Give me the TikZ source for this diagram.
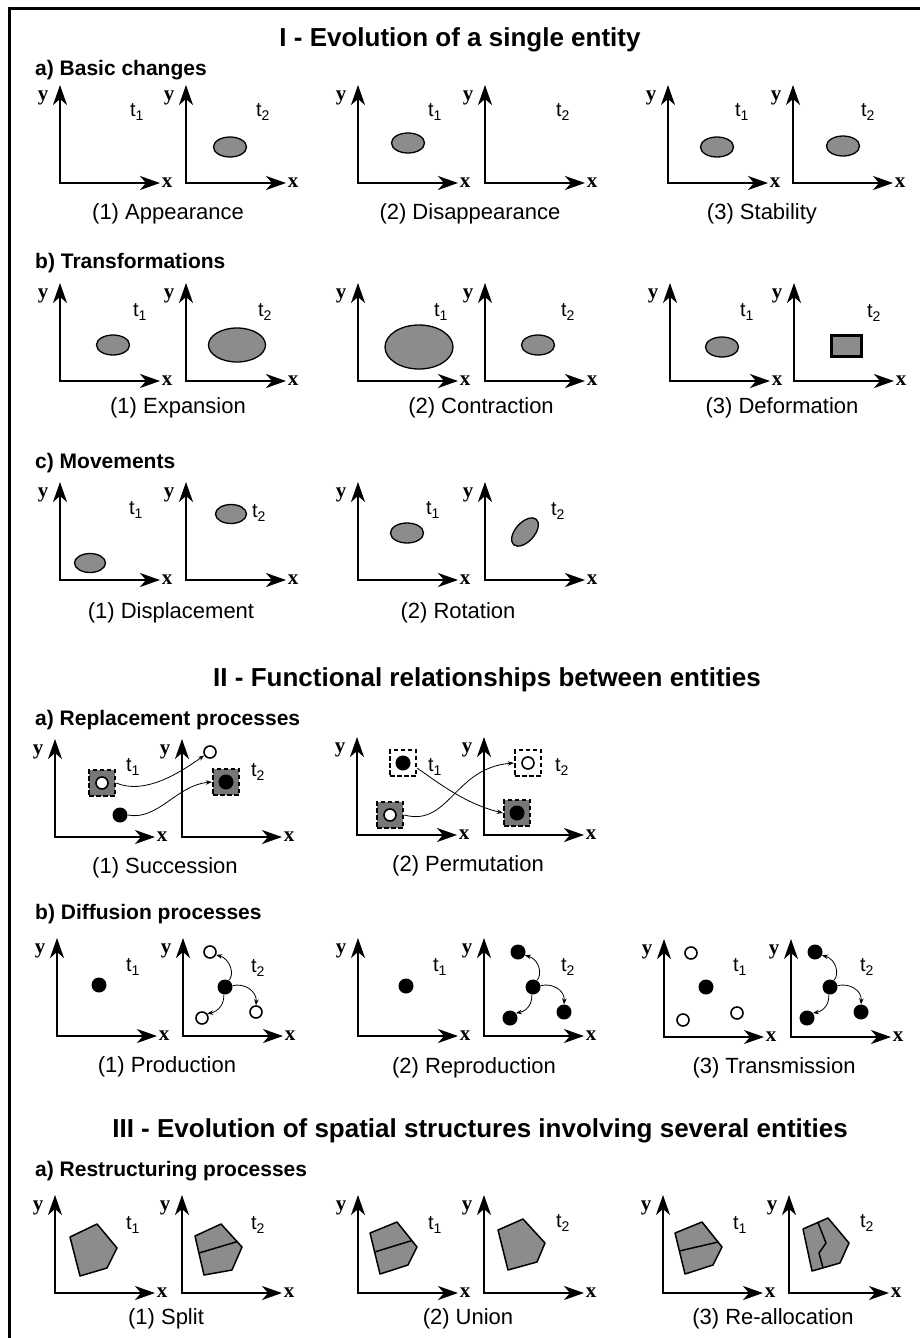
\documentclass[tikz,border=0pt]{standalone}
\usepackage{fontspec}
\setmainfont{Liberation Sans}
\newfontfamily\axfont{Liberation Serif}
\usetikzlibrary{arrows.meta,shapes.geometric}
\definecolor{shapegray}{RGB}{140,140,140}
\tikzset{
 axisline/.style={line width=1.7pt, {Stealth[length=20pt,width=14pt,inset=6pt]}-{Stealth[length=20pt,width=14pt,inset=6pt]}},
 axlab/.style={font=\axfont\bfseries\fontsize{21}{21}\selectfont, inner sep=0},
 tlab/.style={font=\fontsize{20}{20}\selectfont, inner sep=0},
 captxt/.style={font=\fontsize{22}{26}\selectfont, inner sep=0},
 subt/.style={font=\bfseries\fontsize{21}{25}\selectfont, inner sep=0, anchor=west},
 ttl/.style={font=\bfseries\fontsize{26}{30}\selectfont, inner sep=0},
 ell/.style={ellipse, draw, line width=1.3pt, fill=shapegray, inner sep=0, minimum width=33pt, minimum height=20pt},
 bigell/.style={ellipse, draw, line width=1.3pt, fill=shapegray, inner sep=0},
 bdot/.style={circle, fill=black, inner sep=0, minimum size=15pt},
 odot/.style={circle, draw, line width=1.6pt, fill=white, inner sep=0, minimum size=12pt},
 dsq/.style={rectangle, draw, line width=2.4pt, dash pattern=on 4.5pt off 2.5pt, inner sep=0, minimum size=26pt},
 dsqg/.style={dsq, fill=shapegray!85!black},
 dsqw/.style={dsq, fill=white},
 carrow/.style={line width=0.8pt, -{Stealth[length=6pt,width=4.5pt]}},
 poly/.style={draw, line width=1.5pt, fill=shapegray, line join=round},
 splitline/.style={draw, line width=1.5pt, line join=round},
}
\newcommand\myax[2]{\begin{scope}[shift={(#1,#2)}]
 \draw[axisline] (0,-98) -- (0,0) -- (100,0);
 \node[axlab] at (-17,-85) {y};
 \node[axlab] at (107,0) {x};
 \end{scope}}
\newcommand\tsub[1]{t\textsubscript{#1}}
% diffusion second panel: #1 prefix, #2 shift x, #3 outer style
\newcommand\diffpanel[3]{\begin{scope}[shift={(#2,0)}]
 \node[bdot] (#1c) at (225,987) {};
 \node[#3] (#1u) at (210,952) {};
 \node[#3] (#1l) at (202,1018) {};
 \node[#3] (#1r) at (256,1012) {};
 \draw[carrow] (#1c.60) .. controls +(6,-6) and +(14,4) .. (#1u.-25);
 \draw[carrow] (#1c.10) .. controls +(12,-3) and +(1,-14) .. (#1r.north);
 \draw[carrow] (#1c.-100) .. controls +(1,9) and +(11,-2) .. (#1l.40);
 \end{scope}}
\begin{document}
\begin{tikzpicture}[x=1pt,y=-1pt]
\useasboundingbox (0,0) rectangle (919,1338);
\fill[white] (0,0) rectangle (919,1338);
\draw[line width=3pt] (9.5,1345) -- (9.5,9) -- (925,9);

% ===== Section I =====
\node[ttl] (T1) at (460,40) {I - Evolution of a single entity};
\node[subt] (Sa1) at (35,70) {a) Basic changes};
\myax{60}{183}\myax{186}{183}\myax{358}{183}\myax{485}{183}\myax{668}{183}\myax{793}{183}
\node[tlab] (ta1) at (137,112) {\tsub{1}};
\node[tlab] (ta2) at (263,112) {\tsub{2}};
\node[tlab] (ta3) at (435,112) {\tsub{1}};
\node[tlab] (ta4) at (563,112) {\tsub{2}};
\node[tlab] (ta5) at (742,112) {\tsub{1}};
\node[tlab] (ta6) at (868,112) {\tsub{2}};
\node[ell] (ea1) at (230,147) {};
\node[ell] (ea2) at (408,143) {};
\node[ell] (ea3) at (717,147) {};
\node[ell] (ea4) at (843,146) {};
\node[captxt] (ca1) at (168,214) {(1) Appearance};
\node[captxt] (ca2) at (470,214) {(2) Disappearance};
\node[captxt] (ca3) at (762,214) {(3) Stability};

\node[subt] (Sb1) at (35,263) {b) Transformations};
\myax{60}{381}\myax{186}{381}\myax{358}{381}\myax{485}{381}\myax{670}{381}\myax{794}{381}
\node[tlab] (tb1) at (140,312) {\tsub{1}};
\node[tlab] (tb2) at (265,312) {\tsub{2}};
\node[tlab] (tb3) at (441,312) {\tsub{1}};
\node[tlab] (tb4) at (568,312) {\tsub{2}};
\node[tlab] (tb5) at (747,312) {\tsub{1}};
\node[tlab] (tb6) at (874,313) {\tsub{2}};
\node[ell] (eb1) at (113,345) {};
\node[bigell, minimum width=57pt, minimum height=34pt] (eb2) at (237,345) {};
\node[bigell, minimum width=68pt, minimum height=44pt] (eb3) at (419,347) {};
\node[ell] (eb4) at (538,345) {};
\node[ell] (eb5) at (722,347) {};
\node[rectangle, draw, line width=2.6pt, fill=shapegray, inner sep=0, minimum width=30pt, minimum height=21pt] (rb6) at (846.5,346) {};
\node[captxt] (cb1) at (178,408) {(1) Expansion};
\node[captxt] (cb2) at (481,408) {(2) Contraction};
\node[captxt] (cb3) at (782,408) {(3) Deformation};

\node[subt] (Sc1) at (35,463) {c) Movements};
\myax{60}{580}\myax{186}{580}\myax{358}{580}\myax{485}{580}
\node[tlab] (tc1) at (136,510) {\tsub{1}};
\node[tlab] (tc2) at (259,513) {\tsub{2}};
\node[tlab] (tc3) at (433,510) {\tsub{1}};
\node[tlab] (tc4) at (558,511) {\tsub{2}};
\node[ell, minimum width=31pt, minimum height=19pt] (ec1) at (90,563) {};
\node[ell, minimum width=31pt, minimum height=19pt] (ec2) at (231,514) {};
\node[ell, minimum width=33pt, minimum height=20pt] (ec3) at (407,533) {};
\node[ell, minimum width=34pt, minimum height=19pt, rotate=48] (ec4) at (525,532) {};
\node[captxt] (cc1) at (171,613) {(1) Displacement};
\node[captxt] (cc2) at (458,613) {(2) Rotation};

% ===== Section II =====
\node[ttl] (T2) at (487,680) {II - Functional relationships between entities};
\node[subt] (Sa2) at (35,720) {a) Replacement processes};
\myax{55}{837}\myax{182}{837}\myax{357}{835}\myax{484}{835}
\node[tlab] (tr1) at (133,767) {\tsub{1}};
\node[tlab] (tr2) at (258,772) {\tsub{2}};
\node[tlab] (tr3) at (435,767) {\tsub{1}};
\node[tlab] (tr4) at (562,767) {\tsub{2}};
% succession
\node[dsqg] (s1) at (102,783) {};
\node[odot] (s1i) at (s1) {};
\node[bdot] (s2) at (120,815) {};
\node[odot] (s3) at (210,752) {};
\node[dsqg] (s4) at (226,782) {};
\node[bdot] (s4i) at (s4) {};
\draw[carrow] (s1.east) .. controls +(28,12) and +(-25,18) .. (s3.-150);
\draw[carrow] (s2.east) .. controls +(30,6) and +(-35,3) .. (s4.west);
% permutation
\node[dsqw] (p1) at (403,763) {};
\node[bdot] (p1i) at (p1) {};
\node[dsqg] (p2) at (390,815) {};
\node[odot] (p2i) at (p2) {};
\node[dsqw] (p3) at (528,763) {};
\node[odot] (p3i) at (p3) {};
\node[dsqg] (p4) at (517,813) {};
\node[bdot] (p4i) at (p4) {};
\draw[carrow] (p1.-20) .. controls +(18,12) and +(-40,-10) .. (p4.west);
\draw[carrow] (p2.east) .. controls +(45,12) and +(-60,5) .. (p3.west);
\node[captxt] (cr1) at (165,868) {(1) Succession};
\node[captxt] (cr2) at (468,866) {(2) Permutation};

\node[subt] (Sb2) at (35,914) {b) Diffusion processes};
\myax{57}{1036}\myax{183}{1036}\myax{358}{1036}\myax{484}{1036}\myax{664}{1037}\myax{791}{1037}
\node[tlab] (td1) at (133,967) {\tsub{1}};
\node[tlab] (td2) at (258,968) {\tsub{2}};
\node[tlab] (td3) at (440,967) {\tsub{1}};
\node[tlab] (td4) at (568,967) {\tsub{2}};
\node[tlab] (td5) at (740,967) {\tsub{1}};
\node[tlab] (td6) at (867,967) {\tsub{2}};
\node[bdot] (d1) at (99,985) {};
\diffpanel{pa}{0}{odot}
\node[bdot] (d2) at (406,986) {};
\diffpanel{pb}{308}{bdot}
\node[odot] (d3a) at (691,953) {};
\node[bdot] (d3b) at (706,987) {};
\node[odot] (d3c) at (683,1020) {};
\node[odot] (d3d) at (737,1013) {};
\diffpanel{pc}{605}{bdot}
\node[captxt] (cd1) at (167,1067) {(1) Production};
\node[captxt] (cd2) at (474,1068) {(2) Reproduction};
\node[captxt] (cd3) at (774,1068) {(3) Transmission};

% ===== Section III =====
\node[ttl] (T3) at (480,1131) {III - Evolution of spatial structures involving several entities};
\node[subt] (Sa3) at (35,1171) {a) Restructuring processes};
\myax{55}{1293}\myax{182}{1293}\myax{358}{1293}\myax{484}{1293}\myax{663}{1293}\myax{789}{1293}
\node[tlab] (tp1) at (133,1225) {\tsub{1}};
\node[tlab] (tp2) at (258,1225) {\tsub{2}};
\node[tlab] (tp3) at (435,1225) {\tsub{1}};
\node[tlab] (tp4) at (563,1223) {\tsub{2}};
\node[tlab] (tp5) at (740,1225) {\tsub{1}};
\node[tlab] (tp6) at (867,1223) {\tsub{2}};
% split
\draw[poly] (70,1237) -- (97,1224) -- (117,1248) -- (107,1268) -- (80,1276) -- cycle;
\draw[poly] (195,1236) -- (221,1224) -- (242,1247) -- (232,1270) -- (204,1275) -- cycle;
\draw[splitline] (199,1253) -- (237.5,1241.5);
% union
\draw[poly] (370,1233) -- (397,1222) -- (417,1247) -- (408,1265) -- (380,1274) -- cycle;
\draw[splitline] (374.6,1252) -- (412,1240.5);
\draw[poly] (498,1230) -- (523,1219) -- (545,1243) -- (537,1262) -- (508,1270) -- cycle;
% re-allocation
\draw[poly] (675,1233) -- (702,1222) -- (722,1247) -- (713,1265) -- (685,1274) -- cycle;
\draw[splitline] (679.4,1251) -- (718,1242);
\draw[poly] (803,1229) -- (828,1218) -- (849,1243) -- (840,1263) -- (812,1271) -- cycle;
\draw[splitline] (818,1222.6) -- (826,1243) -- (819,1253) -- (823,1267.8);
\node[captxt] (cp1) at (166,1319) {(1) Split};
\node[captxt] (cp2) at (468,1319) {(2) Union};
\node[captxt] (cp3) at (773,1319) {(3) Re-allocation};
\end{tikzpicture}
\end{document}
